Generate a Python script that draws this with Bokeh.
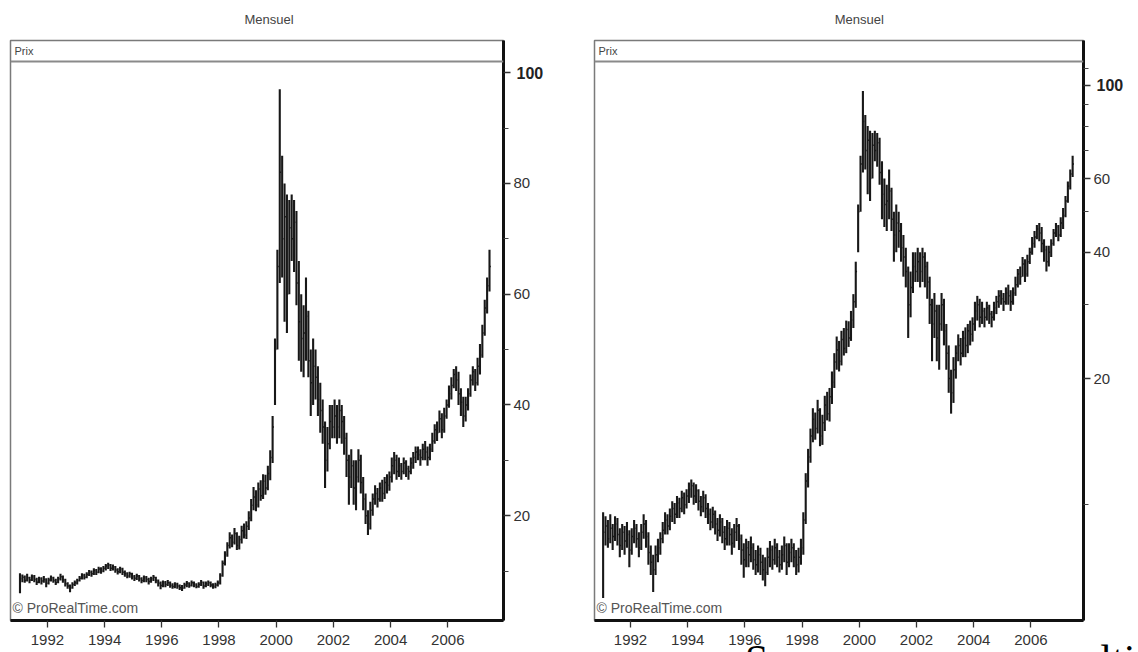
from bokeh.plotting import figure
from bokeh.layouts import row, column
from bokeh.models import (Range1d, FixedTicker, Span, Label, BasicTickFormatter,
                          LinearAxis, LogAxis, Div)
from bokeh.embed import file_html
from bokeh.resources import INLINE

# ---- data (monthly bars, Jan 1991 - Jun 2007) ----
start_year = 1991
closes = [
    8.6, 8.9, 8.3, 8.8, 8.4, 9.0, 8.5, 8.0, 8.6, 8.2, 8.5, 7.8,
    8.4, 8.8, 8.3, 7.9, 8.6, 9.0, 8.4, 7.7, 7.3, 7.0, 7.6, 7.9,
    8.3, 8.7, 9.2, 8.9, 9.4, 9.8, 9.5, 10.1, 9.8, 10.4, 10.0, 10.5,
    10.9, 11.1, 10.5, 10.8, 10.2, 9.9, 10.4, 9.8, 9.5, 9.1, 9.5, 9.0,
    8.7, 9.1, 8.6, 8.3, 8.8, 8.5, 8.1, 8.6, 8.9, 8.3, 7.8, 7.4,
    7.9, 7.6, 7.9, 7.4, 7.2, 7.6, 7.3, 7.0, 6.9, 7.5, 7.8, 7.4,
    7.9, 7.5, 7.2, 7.6, 8.0, 7.3, 7.7, 7.9, 7.5, 7.2, 7.5, 7.9,
    9.2, 11.4, 13.0, 14.6, 16.0, 15.2, 16.8, 14.6, 15.7, 17.3, 16.5, 18.1,
    19.6, 21.9, 23.4, 22.0, 24.8, 23.6, 26.2, 25.0, 27.6, 30.5, 36.0, 50.0,
    65.0, 82.0, 70.0, 74.0, 60.0, 72.0, 70.0, 73.0, 62.0, 55.0, 52.0, 53.0,
    56, 48, 44, 47, 45, 41, 39, 36, 30, 33, 37, 36,
    38, 36, 39, 37, 34, 30, 27, 29, 25, 27, 30, 26,
    23, 20, 18.5, 21, 23, 24, 23, 25, 24, 26, 25.5, 27,
    29, 30, 28, 29, 28, 29.5, 28.5, 28, 29.5, 30.5, 31.5, 31,
    30.5, 32, 31.5, 30.5, 32, 33.5, 35.5, 35, 37.5, 35.5, 38, 40,
    42, 43.5, 45.5, 44.5, 42, 40.5, 38, 40, 42, 44.5, 46, 44,
    47, 49, 53, 57.5, 61.5, 65,
]
highs = [
    9.6, 9.4, 9.2, 9.5, 9.0, 9.4, 9.3, 8.8, 9.0, 8.9, 9.1, 8.7,
    8.8, 9.2, 9.0, 8.6, 9.0, 9.5, 9.2, 8.6, 8.0, 7.6, 8.0, 8.3,
    8.6, 9.1, 9.6, 9.5, 9.8, 10.2, 10.1, 10.5, 10.4, 10.8, 10.7, 10.9,
    11.3, 11.5, 11.3, 11.2, 10.9, 10.5, 10.8, 10.6, 10.1, 9.8, 9.9, 9.7,
    9.3, 9.5, 9.3, 8.9, 9.2, 9.1, 8.8, 9.0, 9.3, 9.0, 8.5, 8.1,
    8.3, 8.2, 8.4, 8.1, 7.8, 8.0, 7.9, 7.6, 7.5, 7.9, 8.2, 8.0,
    8.3, 8.1, 7.8, 8.0, 8.4, 8.1, 8.1, 8.3, 8.1, 7.8, 7.9, 8.3,
    9.6, 11.9, 13.6, 15.2, 17.0, 16.6, 17.8, 17.0, 16.4, 18.2, 18.6, 19.0,
    20.8, 23.0, 25.2, 24.6, 26.0, 26.4, 27.5, 27.4, 29.0, 31.8, 38.0, 52.0,
    68, 97, 85, 80, 78, 77, 78, 77, 75, 66, 60, 58,
    63, 57, 50, 52, 50, 47, 44, 41, 37, 36, 40, 40,
    41, 40, 41, 40, 38, 35, 31, 32, 30, 30, 32, 31,
    27, 24, 21, 22.5, 24, 25.5, 25, 26, 26.5, 27, 27.5, 28,
    30.5, 31.5, 31, 30.5, 29.5, 30.5, 30, 29, 30.5, 31.5, 32.5, 32.5,
    32, 33, 33.5, 32.5, 33, 35, 36.5, 37, 39, 38.5, 39.5, 41,
    43.5, 45, 46.5, 47, 46, 43, 41.5, 41.5, 43, 45.5, 47, 46.5,
    48.5, 51, 54.5, 59, 63, 68,
]
lows = [
    6.0, 8.0, 7.9, 8.1, 7.8, 8.2, 8.0, 7.5, 7.8, 7.6, 7.9, 7.1,
    7.6, 8.1, 7.9, 7.5, 7.8, 8.3, 7.9, 7.2, 6.8, 6.2, 6.8, 7.3,
    7.6, 8.1, 8.5, 8.5, 8.7, 9.1, 9.0, 9.3, 9.3, 9.6, 9.5, 9.8,
    10.1, 10.4, 10.0, 10.1, 9.7, 9.4, 9.6, 9.3, 9.0, 8.7, 8.8, 8.5,
    8.2, 8.4, 8.1, 7.8, 8.0, 8.0, 7.6, 7.9, 8.2, 7.8, 7.2, 6.7,
    7.1, 7.1, 7.3, 7.0, 6.8, 6.9, 6.8, 6.6, 6.4, 6.8, 7.1, 7.0,
    7.2, 7.1, 6.9, 7.0, 7.3, 6.8, 7.1, 7.3, 7.1, 6.8, 6.9, 7.2,
    7.6, 9.0, 11.0, 12.6, 14.1, 14.3, 14.8, 13.8, 13.9, 15.0, 15.9, 15.8,
    17.4, 19.0, 21.0, 20.8, 21.5, 22.7, 23.0, 23.8, 24.6, 26.4, 29.5, 40.0,
    50, 62, 63, 55, 53, 60, 66, 64, 58, 48, 46, 45,
    48, 45, 38, 40, 41, 38, 35, 33, 25, 28, 32, 34,
    34, 33, 34, 33, 31, 27, 22, 25, 22, 21, 26, 24,
    21, 18.5, 16.5, 17.5, 20, 22, 21.5, 22.5, 22.5, 23, 24, 24.5,
    26, 27.5, 26.5, 27, 26.5, 27.5, 27, 26.5, 27.5, 28.5, 29.5, 30,
    29, 30, 30, 29, 30, 31.5, 33, 33.5, 35, 34, 35, 37.5,
    39.5, 41, 43, 42.5, 40, 38, 36, 37, 39, 41.5, 43.5, 42.5,
    43.5, 45.5, 48.5, 52.5, 56.5, 60.5,
]
year_ticks = [1992, 1994, 1996, 1998, 2000, 2002, 2004, 2006]
lin_ticks = [20, 40, 60, 80, 100]
lin_minor = [10, 30, 50, 70, 90]
log_ticks = [20, 40, 60, 100]
log_minor = [10, 30, 50, 70, 80, 90, 110]
bold_tick = [100]
title_text = "Mensuel"
header_text = "Prix"
credit_text = "\u00a9 ProRealTime.com"
caption_text = "Source : www.prorealtime.com"

t = [start_year + (i + 0.5) / 12.0 for i in range(len(closes))]

FONT = "Liberation Sans"
H = 652
TOP = 40
BOTTOM = 32
FRAME_H = H - TOP - BOTTOM
PX_PER_YEAR = 28.6


def panel(width, border_left, border_right, y_range, y_type, ticks, minor, header_y,
          x_start, title_at):
    frame_w = width - border_left - border_right
    x_end = x_start + frame_w / PX_PER_YEAR
    p = figure(width=width, height=H, output_backend="svg", toolbar_location=None,
               x_range=Range1d(x_start, x_end), y_range=y_range,
               y_axis_type=y_type, y_axis_location="right",
               min_border_left=border_left, min_border_right=border_right,
               min_border_top=TOP, min_border_bottom=BOTTOM)
    p.title.visible = False
    p.background_fill_color = "white"
    p.border_fill_color = "white"
    p.outline_line_color = "#7a7a7a"
    p.outline_line_width = 1.5
    p.xgrid.visible = False
    p.ygrid.visible = False

    # bars
    p.segment(x0=t, y0=lows, x1=t, y1=highs, line_color="#181818", line_width=2.1)
    p.segment(x0=t, y0=closes, x1=[v + 0.045 for v in t], y1=closes,
              line_color="#181818", line_width=1.5)

    # axes
    for ax in (p.xaxis[0], p.yaxis[0]):
        ax.axis_line_color = "#111111"
        ax.axis_line_width = 3
        ax.major_tick_in = 0
        ax.major_tick_out = 7
        ax.major_tick_line_color = "#333333"
        ax.major_tick_line_width = 1.3
        ax.minor_tick_in = 0
        ax.minor_tick_out = 5
        ax.minor_tick_line_color = "#444444"
        ax.minor_tick_line_width = 1
        ax.major_label_text_font = FONT
        ax.major_label_text_font_size = "15px"
        ax.major_label_text_color = "#333333"
    p.xaxis[0].ticker = FixedTicker(ticks=year_ticks, minor_ticks=[])
    p.xaxis[0].major_label_standoff = 7
    p.yaxis[0].ticker = FixedTicker(ticks=ticks, minor_ticks=minor)
    p.yaxis[0].formatter = BasicTickFormatter()
    p.yaxis[0].major_label_standoff = 3
    p.yaxis[0].major_label_overrides = {100: ""}

    # bold "100" label: second right axis, pulled back over the first one
    AxisCls = LogAxis if y_type == "log" else LinearAxis
    bold = AxisCls(ticker=FixedTicker(ticks=bold_tick, minor_ticks=[]),
                   formatter=BasicTickFormatter())
    bold.axis_line_color = None
    bold.major_tick_line_color = None
    bold.minor_tick_line_color = None
    bold.major_tick_in = 0
    bold.major_tick_out = 0
    bold.minor_tick_in = 0
    bold.minor_tick_out = 0
    bold.major_label_standoff = -17
    bold.major_label_text_font = FONT
    bold.major_label_text_font_size = "16px"
    bold.major_label_text_font_style = "bold"
    bold.major_label_text_color = "#222222"
    p.add_layout(bold, "right")

    # panel title "Mensuel" above the box
    tax = LinearAxis(ticker=FixedTicker(ticks=[title_at], minor_ticks=[]),
                     formatter=BasicTickFormatter())
    tax.major_label_overrides = {title_at: title_text}
    tax.axis_line_color = None
    tax.major_tick_line_color = None
    tax.minor_tick_line_color = None
    tax.major_tick_in = 0
    tax.major_tick_out = 0
    tax.minor_tick_in = 0
    tax.minor_tick_out = 0
    tax.major_label_standoff = 14
    tax.major_label_text_font = FONT
    tax.major_label_text_font_size = "13px"
    tax.major_label_text_color = "#444444"
    p.add_layout(tax, "above")

    # header band
    p.add_layout(Span(location=header_y, dimension="width", line_color="#8a8a8a", line_width=2))
    p.add_layout(Label(x=4, y=FRAME_H - 10.5, x_units="screen", y_units="screen", text=header_text,
                       text_font=FONT, text_font_size="11px", text_color="#444444",
                       text_baseline="middle"))
    # credit
    p.add_layout(Label(x=2, y=13, x_units="screen", y_units="screen", text=credit_text,
                       text_font=FONT, text_font_size="14px", text_color="#555555",
                       text_baseline="middle"))
    return p


p1 = panel(590, 10, 87, Range1d(1.08, 105.8), "linear", lin_ticks, lin_minor, 102.0,
           1990.71, 1999.75)
p2 = panel(548, 4, 55, Range1d(5.3, 128.0), "log", log_ticks, log_minor, 114.1,
           1990.74, 2000.0)

# caption under the charts, cut off by the bottom of the window as in the reference
cap = Div(
    text=('<div style="margin-left:745px;margin-top:1px;font-family:\'Liberation Serif\';'
          'font-size:42px;line-height:42px;white-space:nowrap;color:#000000">'
          + caption_text + '</div>'),
    width=1138, height=14, margin=(-14, 0, 0, 0),
    styles={"overflow": "hidden", "position": "relative", "z-index": "10",
            "background": "transparent"})

layout = column(row(p1, p2), cap)
open("out.html", "w").write(file_html(layout, INLINE))
